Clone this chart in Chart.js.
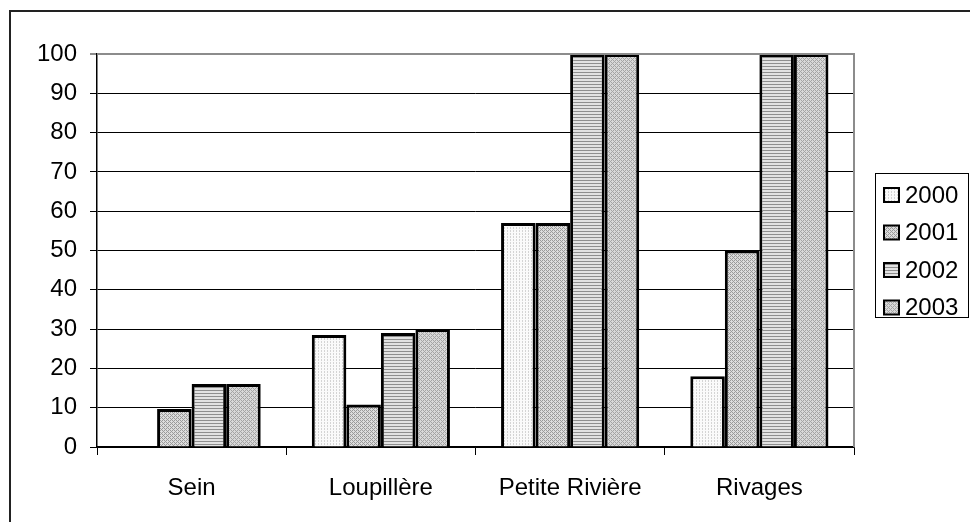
<!DOCTYPE html>
<html>
<head>
<meta charset="utf-8">
<script src="https://cdn.jsdelivr.net/npm/chart.js@4/dist/chart.umd.min.js"></script>
<style>
  body { margin: 0; background: #fff; }
  #wrap { width: 970px; height: 522px; }
</style>
</head>
<body>
<div id="wrap"><canvas id="barChart" width="970" height="522"></canvas></div>
<script>
const categories = ['Sein', 'Loupillère', 'Petite Rivière', 'Rivages'];
const seriesLabels = ['2000', '2001', '2002', '2003'];
const values2000 = [0, 28.5, 57, 18];
const values2001 = [9.7, 10.8, 57, 50];
const values2002 = [16, 29, 100, 100];
const values2003 = [16, 30, 100, 100];
const yTicks = [0, 10, 20, 30, 40, 50, 60, 70, 80, 90, 100];

// small tiled fills, like the old office hatch patterns
function makePattern(size, draw) {
  const c = document.createElement('canvas');
  c.width = size; c.height = size;
  const g = c.getContext('2d');
  draw(g);
  return g.createPattern(c, 'repeat');
}

const ctx0 = document.getElementById('barChart').getContext('2d');

const pat2000 = makePattern(3, g => {
  g.fillStyle = '#fafafa'; g.fillRect(0, 0, 3, 3);
  g.fillStyle = '#d4d4d4'; g.fillRect(0, 0, 1, 1); g.fillRect(0, 2, 1, 1);
});
const pat2001 = makePattern(4, g => {
  g.fillStyle = '#dcdcdc'; g.fillRect(0, 0, 4, 4);
  g.fillStyle = '#9a9a9a';
  g.fillRect(0, 0, 1, 1); g.fillRect(1, 1, 1, 1); g.fillRect(2, 2, 1, 1); g.fillRect(3, 3, 1, 1);
  g.fillRect(2, 0, 1, 1); g.fillRect(0, 2, 1, 1);
});
const pat2002 = makePattern(3, g => {
  g.fillStyle = '#e2e2e2'; g.fillRect(0, 0, 3, 3);
  g.fillStyle = '#8e8e8e'; g.fillRect(0, 0, 3, 1);
});
const pat2003 = makePattern(4, g => {
  g.fillStyle = '#d8d8d8'; g.fillRect(0, 0, 4, 4);
  g.fillStyle = '#a4a4a4';
  g.fillRect(3, 0, 1, 1); g.fillRect(2, 1, 1, 1); g.fillRect(1, 2, 1, 1); g.fillRect(0, 3, 1, 1);
  g.fillRect(1, 0, 1, 1); g.fillRect(3, 2, 1, 1);
});
const fills = [pat2000, pat2001, pat2002, pat2003];

// outer frame, plot border and boxed legend
const framePlugin = {
  id: 'frame',
  afterDraw(chart) {
    const ctx = chart.ctx;
    const a = chart.chartArea;
    ctx.save();
    ctx.strokeStyle = '#8c8c8c';
    ctx.lineWidth = 2;
    ctx.beginPath();
    ctx.moveTo(a.left, a.top);
    ctx.lineTo(a.right, a.top);
    ctx.lineTo(a.right, a.bottom);
    ctx.stroke();

    ctx.strokeStyle = '#222';
    ctx.lineWidth = 2;
    ctx.strokeRect(10, 11, 980, 530);

    // legend
    ctx.strokeStyle = '#000';
    ctx.lineWidth = 1;
    ctx.strokeRect(875.5, 173.5, 93, 144);
    ctx.font = '24px "Liberation Sans", Arial, sans-serif';
    ctx.textBaseline = 'middle';
    ctx.fillStyle = '#000';
    chart.data.datasets.forEach((ds, i) => {
      const y = 195 + i * 37.5;
      ctx.fillStyle = ds.backgroundColor;
      ctx.fillRect(884, y - 7, 15, 14);
      ctx.lineWidth = 2;
      ctx.strokeRect(884, y - 7, 15, 14);
      ctx.fillStyle = '#000';
      ctx.fillText(ds.label, 905, y + 1);
    });
    ctx.restore();
  }
};

new Chart(ctx0, {
  type: 'bar',
  data: {
    labels: categories,
    datasets: [values2000, values2001, values2002, values2003].map((v, i) => ({
      label: seriesLabels[i],
      data: v,
      backgroundColor: fills[i],
      borderColor: '#000',
      borderWidth: 3,
      categoryPercentage: 0.73,
      barPercentage: 1
    }))
  },
  options: {
    responsive: false,
    animation: false,
    devicePixelRatio: 1,
    layout: { padding: { left: 0, top: 54, right: 116, bottom: 0 } },
    plugins: {
      legend: { display: false },
      tooltip: { enabled: false }
    },
    scales: {
      x: {
        afterFit: s => { s.height = 75; },
        grid: { offset: true, drawOnChartArea: false, drawTicks: true, tickLength: 8, color: '#000', lineWidth: 1 },
        border: { color: '#000', width: 1.5 },
        ticks: { color: '#000', padding: 19, font: { family: '"Liberation Sans", Arial, sans-serif', size: 24 } }
      },
      y: {
        min: 0,
        max: 100,
        afterFit: s => { s.width = 97; },
        afterBuildTicks: s => { s.ticks = yTicks.map(v => ({ value: v })); },
        grid: {
          color: c => (c.tick && c.tick.value === 100 ? '#8c8c8c' : '#000'),
          lineWidth: c => (c.tick && c.tick.value === 100 ? 2 : 1),
          tickLength: 7
        },
        border: { color: '#000', width: 1.5 },
        ticks: { color: '#000', padding: 13, font: { family: '"Liberation Sans", Arial, sans-serif', size: 24 } }
      }
    }
  },
  plugins: [framePlugin]
});
</script>
</body>
</html>
